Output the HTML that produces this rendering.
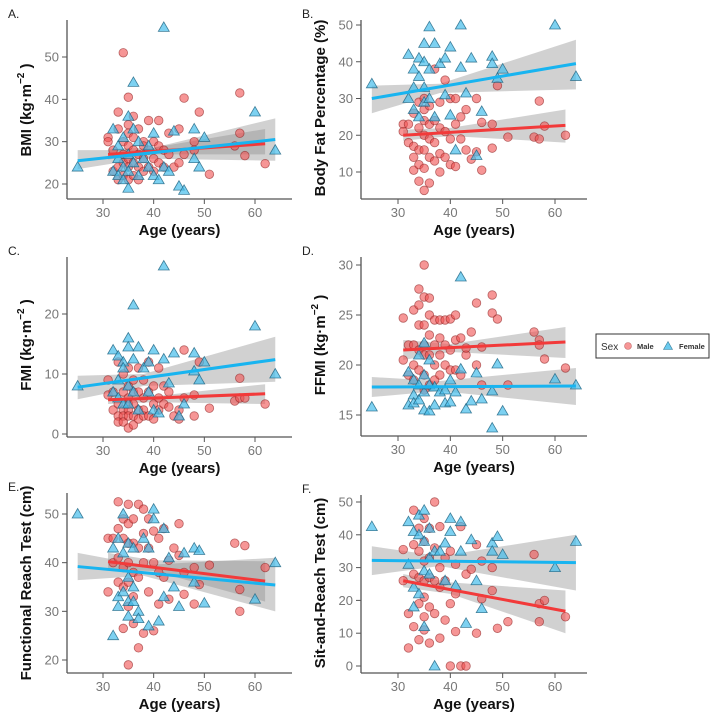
<!DOCTYPE html>
<html><head><meta charset="utf-8"><style>
body{margin:0;background:#fff;}
svg{display:block;font-family:"Liberation Sans",sans-serif;}
</style></head><body>
<svg id="chart" width="720" height="720" viewBox="0 0 720 720" xmlns="http://www.w3.org/2000/svg"></svg>
<script>
// shared ages
const maleAges=[31,31,32,32,33,33,33,33,34,34,34,34,34,35,35,35,35,35,35,35,36,36,36,36,36,37,37,37,37,38,38,38,38,39,39,39,40,40,40,41,41,41,42,42,43,43,44,45,45,46,46,48,48,49,51,56,57,57,58,62];
const femaleAges=[25,32,32,33,33,33,34,34,34,35,35,35,35,36,36,36,37,37,38,39,39,40,40,41,42,42,43,44,45,46,48,48,49,50,60,64];
const xTicks=[30,40,50,60];
// panel A BMI
const bmiMale=[31,30,28,23,37,24,21,33,51,30,27,22,25,40.5,34,29,26,24,21,32,36,28,25,22,31,33,27,24,21,30,29,26,23,35,28,24,30,26,23,35,29,25,28,24,32,27,24,33,25,40.3,27,30,28,37,22.3,29,41.5,32,26.7,24.8];
const bmiFemale=[24,33,23,29,26,22,24,31,21,36,19,27,23,44,33,25,22,30,26,24,29,32,22,21,57,24,23,32.5,19.5,18.5,33,26,24,31,37,28];
const bmiTicks=[20,30,40,50];
const bmiFitMale=[31,27,62,29.5], bmiFitFemale=[25,25.5,64,30.5];
const bmiBandMale=[[31,25.8,28.3],[40,27,28.6],[62,27,33]];
const bmiBandFemale=[[25,23.5,28],[38,26,28],[64,25.5,35.5]];
// panel B body fat
const bfMale=[23,21,23,18,26,17,14,10.5,29,22,16,12,7.5,30,27,24,20,16,11,5,28,23,19,14,7,38,24,18,13,29,22,15,10,35,21,14,30,19,12,30,23,11.5,25,19,27,16,13.5,30,15.5,23.5,10.5,23,16.5,33.5,19.5,19.5,29.3,19,22.5,20];
const bfFemale=[34,42,30,38,33,27,41,36,25,45,40,33,29,49.5,38,30,45,25,39.5,41,31,44,25.5,16,50,38.5,31.5,41,14.5,26.5,41.5,39.5,35.5,38,50,36];
const bfTicks=[10,20,30,40,50];
const bfFitMale=[31,20,62,22.7], bfFitFemale=[25,30,64,39.5];
const bfBandMale=[[31,18.5,21.5],[40,19.8,22],[62,18,27]];
const bfBandFemale=[[25,26,33.5],[38,31.5,34],[64,32.5,46]];
// panel C FMI
const fmiMale=[6.5,9,7,4,12,5,3,2,10,7,4,3,2,11,8,6,5,4,3,1,9,7,5,3,1.5,11,7,4,2.5,9,6,4,3,12,7,3,8,5,2.5,11,6,4,8,5,7,4.5,3,4,2.5,14,6,6.5,3,12,4.3,5.5,9.3,6,6,5];
const fmiFemale=[8,14,7,13,9,6,12,11,5,16,14.5,8,5,21.5,12.5,7,14.5,4,11,12,7,14,4,3.5,28,12.5,8.5,13.5,3,5,13.5,10.5,9,12,18,10];
const fmiTicks=[0,10,20];
const fmiFitMale=[31,5.7,62,6.7], fmiFitFemale=[25,7.8,64,12.4];
const fmiBandMale=[[31,5,6.5],[40,5.3,6.3],[62,5,8.3]];
const fmiBandFemale=[[25,5.8,9.7],[38,8,10],[64,8.7,16.2]];
// panel D FFMI
const ffmiMale=[24.7,20.5,22,19,25.5,22,20,18.5,27.6,26,24,21.5,19.5,30,26.8,24,22,21,19,17.5,26.7,25,23,21,18,24.5,22,20,18.5,24.5,22.7,21,19,24.5,22,20,24.6,21.5,19.5,25,22.5,19.5,22.7,19,21,21.7,23.3,26.2,20,21.8,18,27,25.2,24.6,18,23.3,22.5,22,20.6,19.7];
const ffmiFemale=[15.8,19.3,16,18.5,17,16.2,21,18,16.5,22.2,19,17.3,15.5,20.5,18,15.4,17.8,16,17.3,17.5,16.2,18.5,16.3,17.3,28.8,19.6,15.6,16.4,19.2,16.6,17.4,13.7,20.1,15.4,18.6,18];
const ffmiTicks=[15,20,25,30];
const ffmiFitMale=[31,21.5,62,22.3], ffmiFitFemale=[25,17.8,64,17.9];
const ffmiBandMale=[[31,20.5,22.5],[40,21.3,22.1],[62,20.7,23.8]];
const ffmiBandFemale=[[25,16.8,18.8],[38,17.4,18.4],[64,16,19.7]];
// panel E FRT
const frtMale=[45,34,45,40,52.5,47,41,36,49,45,39,35,26.5,52,48,44,40,36,31,19,49,44,38,33,27.5,52,43,37,22.5,51,46,40,25.5,49,43,34,46.5,40,26,45,38,31.5,47,37,40.5,32.5,43,48,41.5,33.5,38,39,31.5,35.5,39.5,44,34.5,30,43.5,39];
const frtFemale=[50,43,25,45,33,31,50,42,34,44,37,32,29,43,35,32,30,28.5,45,43,27,51,49,28,47,33,41,35,31,42,43,36,42.5,31.7,32.5,40];
const frtTicks=[20,30,40,50];
const frtFitMale=[31,40.2,62,36.2], frtFitFemale=[25,39.2,64,35.4];
const frtBandMale=[[31,38.5,42],[40,38.3,40.5],[62,32,40.3]];
const frtBandFemale=[[25,36.4,42],[38,37.3,39.5],[64,30,41]];
// panel F SRT
const srtMale=[35.5,26,16,5.5,47.5,37,28,12,42,35,27,19,8,45,38,32,26,21,15,11,42,33,27,18,7,50,36,26,16,42.5,30,24,8.5,33,26,14,35,19,0,31,22,10.5,42.5,0,28,0,29.5,37,10,32,20.5,30,23,11.5,13.5,34,19,13.5,20,15];
const srtFemale=[42.5,44,31,41,24,18,46,40,22,47.5,38,29,12,42,33,28,0,35,35,37.5,26,45,41,24.5,44,35,13,38.5,26,17.5,37.5,35,39.5,34,30,38];
const srtTicks=[0,10,20,30,40,50];
const srtFitMale=[31,26,62,16.7], srtFitFemale=[25,32.2,64,31.5];
const srtBandMale=[[31,24,28],[40,22,25.5],[62,10,23]];
const srtBandFemale=[[25,27.7,36.5],[38,30.5,33.5],[64,23,40]];

const NS="http://www.w3.org/2000/svg";
const svg=document.getElementById('chart');
function mk(tag,attrs,parent){const e=document.createElementNS(NS,tag);for(const k in attrs)e.setAttribute(k,attrs[k]);(parent||svg).appendChild(e);return e;}

const panels=[
 {key:'a',letter:'A.',col:0,top:20,bottom:199,v0:20,p0:184,v1:50,p1:57,ticks:bmiTicks,m:bmiMale,f:bmiFemale,fm:bmiFitMale,ff:bmiFitFemale,bm:bmiBandMale,bf:bmiBandFemale,label:'BMI (kg·m',sup:true,ly:110},
 {key:'b',letter:'B.',col:1,top:20,bottom:199,v0:10,p0:172,v1:50,p1:25,ticks:bfTicks,m:bfMale,f:bfFemale,fm:bfFitMale,ff:bfFitFemale,bm:bfBandMale,bf:bfBandFemale,label:'Body Fat Percentage (%)',sup:false,ly:108},
 {key:'c',letter:'C.',col:0,top:257,bottom:437,v0:0,p0:434,v1:20,p1:314,ticks:fmiTicks,m:fmiMale,f:fmiFemale,fm:fmiFitMale,ff:fmiFitFemale,bm:fmiBandMale,bf:fmiBandFemale,label:'FMI (kg·m',sup:true,ly:345},
 {key:'d',letter:'D.',col:1,top:257,bottom:436,v0:15,p0:415,v1:30,p1:265,ticks:ffmiTicks,m:ffmiMale,f:ffmiFemale,fm:ffmiFitMale,ff:ffmiFitFemale,bm:ffmiBandMale,bf:ffmiBandFemale,label:'FFMI (kg·m',sup:true,ly:345},
 {key:'e',letter:'E.',col:0,top:493,bottom:673,v0:20,p0:660,v1:50,p1:514,ticks:frtTicks,m:frtMale,f:frtFemale,fm:frtFitMale,ff:frtFitFemale,bm:frtBandMale,bf:frtBandFemale,label:'Functional Reach Test (cm)',sup:false,ly:583},
 {key:'f',letter:'F.',col:1,top:495,bottom:673,v0:0,p0:666,v1:50,p1:502,ticks:srtTicks,m:srtMale,f:srtFemale,fm:srtFitMale,ff:srtFitFemale,bm:srtBandMale,bf:srtBandFemale,label:'Sit-and-Reach Test (cm)',sup:false,ly:583}
];

panels.forEach(P=>{
 const left=P.col?361:67, right=P.col?587:292;
 const xa0=P.col?398:103, xa1=P.col?555:255;
 const X=a=>xa0+(a-30)*(xa1-xa0)/30;
 const Y=v=>P.p0+(v-P.v0)*(P.p1-P.p0)/(P.v1-P.v0);
 const g=mk('g',{});
 
 
 const lt=mk('text',{x:P.col?302:8,y:P.top-2,'font-size':12,fill:'#222'},g);
 lt.textContent=P.letter;
 
 
 // bands
 [[P.bm,'male'],[P.bf,'female']].forEach(([B,s])=>{
  const up=B.map(b=>X(b[0])+','+Y(b[2])), lo=B.slice().reverse().map(b=>X(b[0])+','+Y(b[1]));
  const pg=mk('polygon',{points:up.concat(lo).join(' '),fill:'rgba(140,140,140,0.4)'},g);
  
  
 });
 // points
 P.m.forEach((v,i)=>{
  const c=mk('circle',{cx:X(maleAges[i]),cy:Y(v),r:4.3,fill:'rgba(240,80,80,0.6)',stroke:'rgba(140,30,30,0.6)','stroke-width':0.8},g);
  
  
 });
 P.f.forEach((v,i)=>{
  const x=X(femaleAges[i]),y=Y(v);
  const t=mk('polygon',{points:`${x},${y-5.5} ${x-5.5},${y+4} ${x+5.5},${y+4}`,fill:'rgba(70,190,235,0.7)',stroke:'rgba(30,100,130,0.8)','stroke-width':0.8},g);
  
  
 });
 // fit lines
 [[P.fm,'#f23a3a','male'],[P.ff,'#18b4f0','female']].forEach(([F,col,s])=>{
  const l=mk('line',{x1:X(F[0]),y1:Y(F[1]),x2:X(F[2]),y2:Y(F[3]),stroke:col,'stroke-width':3},g);
  
  
 });
 // axes
 const ya=mk('line',{x1:left,y1:P.top,x2:left,y2:P.bottom,stroke:'#555','stroke-width':1.3},g);
 
 
 const xa=mk('line',{x1:left,y1:P.bottom,x2:right,y2:P.bottom,stroke:'#555','stroke-width':1.3},g);
 
 
 P.ticks.forEach(t=>{
  mk('line',{x1:left-5,y1:Y(t),x2:left,y2:Y(t),stroke:'#555','stroke-width':1},g);
  const tx=mk('text',{x:left-8,y:Y(t)+4.5,'font-size':13,fill:'#777','text-anchor':'end'},g);
  tx.textContent=t;
  
  
 });
 xTicks.forEach(t=>{
  mk('line',{x1:X(t),y1:P.bottom,x2:X(t),y2:P.bottom+5,stroke:'#555','stroke-width':1},g);
  const tx=mk('text',{x:X(t),y:P.bottom+18,'font-size':13,fill:'#777','text-anchor':'middle'},g);
  tx.textContent=t;
  
  
 });
 const xt=mk('text',{x:(left+right)/2,y:P.bottom+36,'font-size':15,'font-weight':'bold',fill:'#111','text-anchor':'middle'},g);
 xt.textContent='Age (years)';
 
 
 const lx=left-36;
 const yt=mk('text',{x:0,y:0,'font-size':15,'font-weight':'bold',fill:'#111','text-anchor':'middle',transform:`translate(${lx},${P.ly}) rotate(-90)`},g);
 
 
 if(P.sup){
  const a=mk('tspan',{},yt);a.textContent=P.label;
  const b=mk('tspan',{dy:-7,'font-size':10},yt);b.textContent='−2';
  const c=mk('tspan',{dy:7},yt);c.textContent=' )';
 } else yt.textContent=P.label;
});

// legend
const lg=mk('g',{});


mk('rect',{x:596,y:334,width:113,height:24,fill:'#fff',stroke:'#333','stroke-width':1},lg);
const ls=mk('text',{x:601,y:350,'font-size':10,fill:'#333'},lg);ls.textContent='Sex';
mk('circle',{cx:628,cy:346,r:3.5,fill:'rgba(240,80,80,0.6)',stroke:'rgba(140,30,30,0.5)','stroke-width':0.6},lg);
const lm=mk('text',{x:637,y:349,'font-size':7.5,'font-weight':'bold',fill:'#333'},lg);lm.textContent='Male';


mk('polygon',{points:'668,341.5 663.5,349.5 672.5,349.5',fill:'rgba(70,190,235,0.8)',stroke:'rgba(30,100,130,0.8)','stroke-width':0.6},lg);
const lf=mk('text',{x:679,y:349,'font-size':7.5,'font-weight':'bold',fill:'#333'},lg);lf.textContent='Female';


</script>
</body></html>
